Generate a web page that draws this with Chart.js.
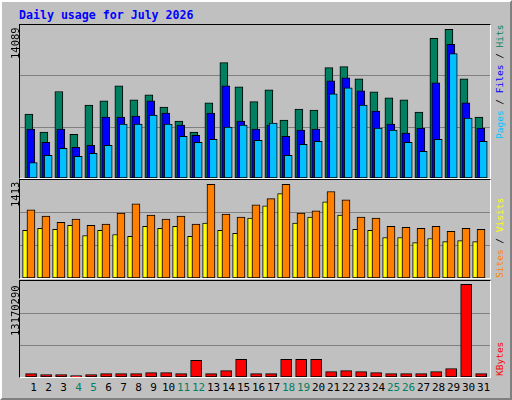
<!DOCTYPE html>
<html><head><meta charset="utf-8">
<script src="https://cdn.jsdelivr.net/npm/chart.js@4"></script>
<style>
html,body{margin:0;padding:0;}
body{width:512px;height:400px;background:#c0c0c0;position:relative;overflow:hidden;font-family:"DejaVu Sans Mono",monospace;}
#frame{position:absolute;left:0;top:0;width:508px;height:396px;border-left:2px solid #fff;border-top:2px solid #fff;border-right:2px solid #808080;border-bottom:2px solid #808080;box-sizing:content-box;}
.panel{position:absolute;left:19px;width:470px;border-left:1px solid #000;border-top:1px solid #000;border-right:1px solid #fff;border-bottom:1px solid #fff;}
.panel canvas{display:block;}
.t{position:absolute;white-space:nowrap;font-size:11px;}
.rot{position:absolute;white-space:nowrap;transform-origin:0 0;transform:rotate(-90deg);font-size:9.5px;line-height:12px;}
</style></head><body>
<div id="frame"></div>
<div class="t" style="left:19px;top:8px;color:#0000ff;font-weight:bold;font-size:11.6px;">Daily usage for July 2026</div>
<div class="panel" style="top:24px;height:153px;"><canvas id="c1"></canvas></div>
<div class="panel" style="top:179px;height:98px;"><canvas id="c2"></canvas></div>
<div class="panel" style="top:280px;height:96px;"><canvas id="c3"></canvas></div>
<div class="rot" style="left:9px;top:59px;color:#000;font-size:10.5px;">14089</div>
<div class="rot" style="left:9px;top:207px;color:#000;font-size:10.5px;">1413</div>
<div class="rot" style="left:9px;top:336px;color:#000;font-size:10.5px;">13170290</div>
<div class="rot" style="left:494px;top:139px;"><span style="color:#00c0ff">Pages</span> <span style="color:#000">/</span> <span style="color:#0000ff">Files</span> <span style="color:#000">/</span> <span style="color:#008060">Hits</span></div>
<div class="rot" style="left:494px;top:278px;"><span style="color:#ff8000">Sites</span> <span style="color:#000">/</span> <span style="color:#ffff00">Visits</span></div>
<div class="rot" style="left:494px;top:376px;color:#ff0000;">KBytes</div>
<div id="xl"></div>
<script>
const days=[1,2,3,4,5,6,7,8,9,10,11,12,13,14,15,16,17,18,19,20,21,22,23,24,25,26,27,28,29,30,31];
const weekendDays=[4,5,11,12,18,19,25,26];
const hits=[6061,4340,8193,4149,6921,7304,8738,7399,7877,6730,5392,4340,7113,10937,8642,7237,8355,5487,6539,6443,10459,10554,9407,8164,7591,7399,6252,13231,14089,9407,5774];
const files=[4627,3384,4627,2906,3097,5774,5774,5870,7304,6157,5009,4053,6157,8738,5392,4627,5009,3958,4531,4627,9216,9503,8260,6348,5105,4245,4723,9025,12657,7113,4723];
const pages=[1472,2141,2811,2046,2333,3097,5105,5105,5965,5105,3958,3384,3671,4818,5009,3575,5201,2141,3193,3480,7973,8547,6921,4723,4531,3384,2524,3671,11797,5679,3480];
const sites=[719,750,734,796,642,719,657,627,781,750,781,627,827,719,673,904,1089,1274,827,919,1150,950,734,719,611,611,534,596,550,565,550];
const visits=[1027,935,842,889,796,812,981,1120,950,889,935,812,1413,966,919,1104,1197,1413,981,1012,1305,1181,919,904,781,765,750,781,704,750,734];
const kbytes=[482000,338000,338000,193000,338000,482000,482000,482000,627000,627000,482000,2364000,482000,917000,2509000,482000,482000,2509000,2509000,2509000,772000,917000,772000,627000,482000,482000,482000,772000,1206000,13170290,482000];

function ds(vals,off,color,w,order){
  return {data:vals.map((v,i)=>({x:days[i]-1+off,y:v})),backgroundColor:color,borderColor:'#000',borderWidth:1,barThickness:w,grouped:false,borderSkipped:false,order:order};
}
function mk(id,w,h,max,sets){
  const cv=document.getElementById(id);cv.width=w;cv.height=h;cv.style.width=w+'px';cv.style.height=h+'px';
  return new Chart(cv,{type:'bar',data:{datasets:sets},options:{
    responsive:false,animation:false,devicePixelRatio:1,
    layout:{padding:0},
    plugins:{legend:{display:false},tooltip:{enabled:false}},
    scales:{
      x:{type:'linear',min:0,max:31.33,offset:false,display:false},
      y:{min:0,max:max,afterBuildTicks:a=>{a.ticks=[{value:max/3},{value:2*max/3}];},
         ticks:{display:false},border:{display:false},grid:{color:'#808080',lineWidth:1,drawTicks:false}}
    }}});
}
mk('c1',470,153,14498,[ds(hits,0.59,'#008060',8,3),ds(files,0.72,'#0000ff',8,2),ds(pages,0.88,'#00c0ff',8,1)]);
mk('c2',470,98,1479,[ds(sites,0.34,'#ffff00',5,2),ds(visits,0.73,'#ff8000',8,1)]);
const c3=mk('c3',470,96,13644000,[ds(kbytes,0.74,'#ff0000',11,1)]);
const xl=document.getElementById('xl');
days.forEach(d=>{
  const px=c3.scales.x.getPixelForValue(d-1+0.9)+20;
  const s=document.createElement('div');s.className='t';
  s.style.left=(px-15)+'px';s.style.width='30px';s.style.textAlign='center';s.style.top='381px';
  s.style.color=weekendDays.includes(d)?'#008060':'#000';s.textContent=d;xl.appendChild(s);
});
</script></body></html>
